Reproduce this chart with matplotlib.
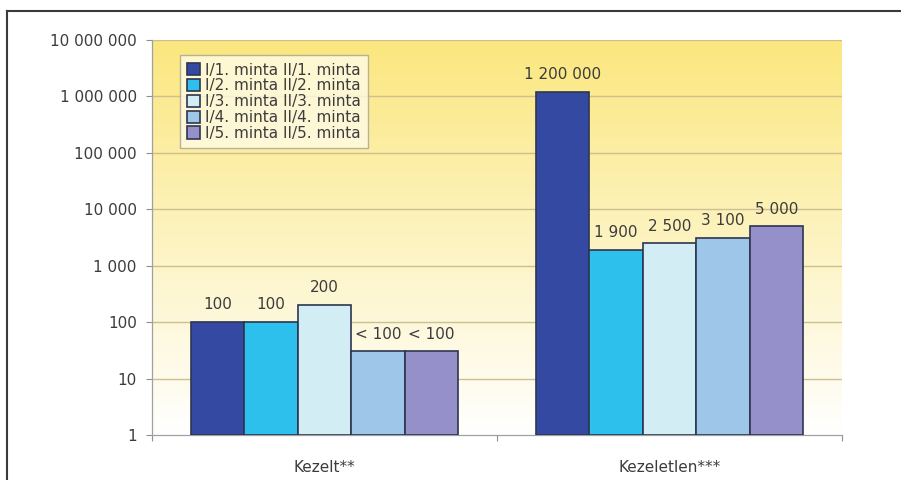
import matplotlib.pyplot as plt
import numpy as np
from matplotlib.colors import LinearSegmentedColormap
from matplotlib.ticker import FixedLocator, FuncFormatter, NullLocator
from matplotlib.lines import Line2D

plt.rcParams['font.family'] = ['DejaVu Sans']

# Germ counts per sample, two groups
groups = ['Kezelt**', 'Kezeletlen***']
series = ['I/1. minta II/1. minta', 'I/2. minta II/2. minta', 'I/3. minta II/3. minta',
          'I/4. minta II/4. minta', 'I/5. minta II/5. minta']
values = [
    [100, 1200000],
    [100, 1900],
    [200, 2500],
    [30, 3100],
    [30, 5000],
]
labels = [
    ['100', '1 200 000'],
    ['100', '1 900'],
    ['200', '2 500'],
    ['< 100', '3 100'],
    ['< 100', '5 000'],
]
colors = ['#3449a2', '#2ec0ec', '#d3edf5', '#9dc6e9', '#9590c9']
yticks = [1, 10, 100, 1000, 10000, 100000, 1000000, 10000000]

text_col = '#3c3c3c'
fs = 11

fig = plt.figure(figsize=(9.01, 4.80), dpi=100)
ax = fig.add_axes([152 / 901, 45 / 480, 690 / 901, 395 / 480])

# yellow-to-white background of the plot area
bg = LinearSegmentedColormap.from_list('bg', ['#ffffff', '#fdf3c0', '#fbe77e'])
grad = np.linspace(0, 1, 256).reshape(-1, 1)
ax.imshow(grad, cmap=bg, origin='lower', extent=[0, 1, 0, 1],
          transform=ax.transAxes, aspect='auto', zorder=0)

ax.set_yscale('log')
ax.set_ylim(1, 10000000)
ax.set_xlim(-0.5, 1.5)

for v in yticks[1:]:
    ax.axhline(v, color='#cdbf8e', lw=1.0, zorder=1)

width = 0.155
x = np.arange(len(groups))
for i, (vals, labs, c) in enumerate(zip(values, labels, colors)):
    pos = x + (i - 2) * width
    ax.bar(pos, vals, width=width, bottom=1, color=c, edgecolor='#2e3550',
           linewidth=1.2, zorder=3, label=series[i])
    for px, v, t in zip(pos, vals, labs):
        ax.annotate(t, (px, v), xytext=(0, 7), textcoords='offset points',
                    ha='center', va='bottom', fontsize=fs, color=text_col)

ax.yaxis.set_major_locator(FixedLocator(yticks))
ax.yaxis.set_minor_locator(NullLocator())
ax.yaxis.set_major_formatter(FuncFormatter(lambda v, p: f'{int(v):,}'.replace(',', ' ')))
ax.tick_params(axis='y', length=4, width=0.8, color='#909090', labelsize=fs,
               labelcolor=text_col, pad=7)

ax.set_xticks([0, 1])
ax.set_xticklabels(groups)
ax.xaxis.set_minor_locator(FixedLocator([-0.5, 0.5, 1.5]))
ax.tick_params(axis='x', which='major', length=0, labelsize=fs, labelcolor=text_col, pad=18)
ax.tick_params(axis='x', which='minor', length=4, width=0.8, color='#909090')

for s in ['top', 'right']:
    ax.spines[s].set_visible(False)
for s in ['left', 'bottom']:
    ax.spines[s].set_color('#a0a0a0')
    ax.spines[s].set_linewidth(0.9)

leg = ax.legend(loc='upper left', bbox_to_anchor=(0.04, 0.962), borderaxespad=0,
                fontsize=fs, handlelength=0.85, handleheight=0.85, handletextpad=0.3,
                labelspacing=0.05, borderpad=0.5, fancybox=False, frameon=True)
leg.get_frame().set_facecolor('#fffbe6')
leg.get_frame().set_edgecolor('#a8a48a')
leg.get_frame().set_linewidth(1.0)
for t in leg.get_texts():
    t.set_color(text_col)

# outer frame
fig.add_artist(Line2D([7 / 901, 7 / 901], [0, 1 - 11 / 480], transform=fig.transFigure,
                      color='#3a3a3a', lw=1.5))
fig.add_artist(Line2D([7 / 901, 1], [1 - 11 / 480, 1 - 11 / 480], transform=fig.transFigure,
                      color='#3a3a3a', lw=1.5))

fig.savefig('out.png', dpi=100)
